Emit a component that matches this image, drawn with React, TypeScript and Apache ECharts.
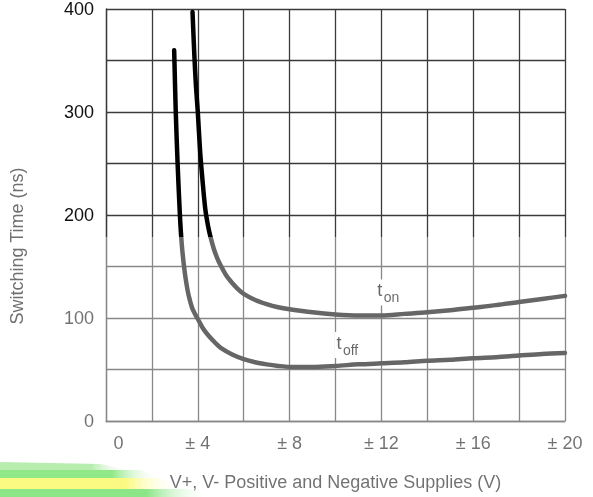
import React, { useEffect, useRef } from 'react';
import * as echarts from 'echarts';

// t_off curve: supply voltage (± V) vs switching time (ns)
const tOffVolts = [2.97, 3.04, 3.12, 3.22, 3.3, 3.4, 3.5, 3.6, 3.75, 3.9, 4.0, 4.25, 4.5, 4.8, 5.0, 5.5, 6.0, 6.5, 7.0, 7.5, 8, 9, 10, 11, 12, 13, 14, 15, 16, 17, 18, 19, 20];
const tOffNs = [360, 300, 250, 200, 172, 150, 134, 122, 110, 103, 99, 89, 82, 75, 71, 64.5, 60, 57, 55, 53.5, 52.5, 52.5, 53.5, 55, 56, 57, 58.5, 59.5, 61, 62, 63.5, 65, 66];

// t_on curve
const tOnVolts = [3.77, 3.85, 3.92, 4.0, 4.1, 4.2, 4.33, 4.45, 4.55, 4.7, 4.85, 5.0, 5.25, 5.5, 5.75, 6.0, 6.5, 7.0, 7.5, 8, 9, 10, 11, 12, 13, 14, 15, 16, 17, 18, 19, 20];
const tOnNs = [397, 355, 325, 300, 262, 235, 205, 189, 179, 167, 158, 151, 141, 134, 128, 123.5, 117.5, 113.5, 110.5, 108.5, 105.5, 103.5, 102.5, 102.5, 104, 105.5, 107.5, 110, 112.5, 115.5, 118.5, 121.5];

const seriesNames = ['t_off', 't_on'];
const labelMain = ['t', 't'];
const labelSub = ['off', 'on'];

const xAxisTitle = 'V+, V- Positive and Negative Supplies (V)';
const yAxisTitle = 'Switching Time (ns)';

const FONT = '"Liberation Sans", Arial, Helvetica, sans-serif';
const GRID_COLOR = '#3a3a3a';

export default function App() {
  const ref = useRef<HTMLDivElement>(null);

  useEffect(() => {
    if (!ref.current) return;
    const chart = echarts.init(ref.current, undefined, { renderer: 'svg' });
    const lineStyleGrid = { color: GRID_COLOR, width: 1.3 };
    const option: any = {
      animation: false,
      grid: { left: 103, right: 28, top: 9, bottom: 76, containLabel: false },
      xAxis: {
        type: 'value',
        min: 0,
        max: 20,
        interval: 4,
        axisLine: { show: true, lineStyle: lineStyleGrid },
        axisTick: { show: false },
        minorTick: { show: false, splitNumber: 2 },
        splitLine: { show: true, lineStyle: lineStyleGrid },
        minorSplitLine: { show: true, lineStyle: lineStyleGrid },
        axisLabel: {
          color: '#111',
          fontSize: 18,
          fontFamily: FONT,
          margin: 13,
          formatter: (v: number) => (v === 0 ? '{z|0}' : '± ' + v),
          rich: { z: { padding: [0, 0, 0, 25], fontSize: 18, fontFamily: FONT, color: '#111' } },
        },
        name: xAxisTitle,
        nameLocation: 'middle',
        nameGap: 52,
        nameTextStyle: { color: '#111', fontSize: 18, fontFamily: FONT },
      },
      yAxis: {
        type: 'value',
        min: 0,
        max: 400,
        interval: 100,
        axisLine: { show: true, lineStyle: lineStyleGrid },
        axisTick: { show: false },
        minorTick: { show: false, splitNumber: 2 },
        splitLine: { show: true, lineStyle: lineStyleGrid },
        minorSplitLine: { show: true, lineStyle: lineStyleGrid },
        axisLabel: { color: '#111', fontSize: 18, fontFamily: FONT, margin: 12, padding: [6, 0, 0, 0] },
        name: yAxisTitle,
        nameLocation: 'middle',
        nameGap: 80,
        nameTextStyle: { color: '#707070', fontSize: 18, fontFamily: FONT, padding: [0, 62, 0, 0] },
      },
      series: [
        {
          name: seriesNames[0],
          type: 'line',
          data: tOffVolts.map((v, i) => [v, tOffNs[i]]),
          showSymbol: false,
          smooth: 0.3,
          lineStyle: { color: '#000', width: 4.5, cap: 'round', join: 'round' },
          z: 3,
        },
        {
          name: seriesNames[1],
          type: 'line',
          data: tOnVolts.map((v, i) => [v, tOnNs[i]]),
          showSymbol: false,
          smooth: 0.3,
          lineStyle: { color: '#000', width: 4.5, cap: 'round', join: 'round' },
          z: 3,
        },
      ],
    };
    chart.setOption(option);

    const anchors: [number, number][] = [
      [10.04, 67],
      [11.82, 118],
    ];
    const labels = anchors.map((a, i) => {
      const p = chart.convertToPixel({ gridIndex: 0 }, a) as number[];
      const subW = labelSub[i].length * 7.5;
      return {
        type: 'group',
        x: p[0],
        y: p[1],
        z: 5,
        children: [
          { type: 'rect', shape: { x: -2, y: -20, width: 8 + subW + 4, height: 26 }, style: { fill: '#fff' }, z: 5 },
          { type: 'text', x: 0, y: 0, style: { text: labelMain[i], fontSize: 18, fontFamily: FONT, fill: '#000', textAlign: 'left', textVerticalAlign: 'bottom' }, z: 6 },
          { type: 'text', x: 6.5, y: 5, style: { text: labelSub[i], fontSize: 14, fontFamily: FONT, fill: '#000', textAlign: 'left', textVerticalAlign: 'bottom' }, z: 6 },
        ],
      };
    });

    const fade = (c: string) => ({
      type: 'linear', x: 0, y: 0, x2: 1, y2: 0,
      colorStops: [
        { offset: 0, color: c },
        { offset: 0.7, color: c },
        { offset: 1, color: 'rgba(255,255,255,0)' },
      ],
    });

    chart.setOption({
      graphic: [
        ...labels,
        // faded lower half
        { type: 'rect', z: 10, shape: { x: 35, y: 237, width: 560, height: 262 }, style: { fill: 'rgba(255,255,255,0.4)' } },
        // decorative streak bottom-left
        { type: 'polygon', z: 11, shape: { points: [[0, 462], [100, 464], [130, 470], [0, 470]] }, style: { fill: fade('rgba(165,232,155,0.8)') } },
        { type: 'polygon', z: 11, shape: { points: [[0, 470], [140, 470], [160, 478], [0, 478]] }, style: { fill: fade('rgba(145,232,135,1)') } },
        { type: 'polygon', z: 11, shape: { points: [[0, 478], [160, 478], [180, 489], [0, 489]] }, style: { fill: fade('rgba(250,250,130,1)') } },
        { type: 'polygon', z: 11, shape: { points: [[0, 489], [190, 489], [210, 497], [0, 497]] }, style: { fill: fade('rgba(140,230,135,1)') } },
      ],
    });

    return () => chart.dispose();
  }, []);

  return <div ref={ref} style={{ position: 'fixed', left: 0, top: 0, width: 593, height: 497 }} />;
}
